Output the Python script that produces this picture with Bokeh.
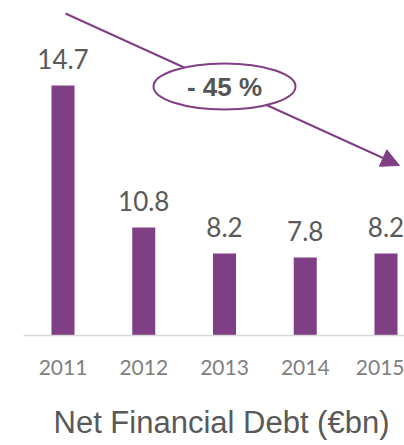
from bokeh.plotting import figure
from bokeh.models import Range1d, FixedTicker, LabelSet, ColumnDataSource, Arrow, NormalHead, Title
from bokeh.core.properties import value
from bokeh.embed import file_html
from bokeh.resources import INLINE

# ---- data ----
years = [2011, 2012, 2013, 2014, 2015]
bar_heights = [25.0, 10.8, 8.2, 7.8, 8.2]          # drawn bar heights (as pictured)
value_labels = ["14.7", "10.8", "8.2", "7.8", "8.2"]  # printed labels
tick_labels = ["2011", "2012", "2013", "2014", "2015"]
change_label = "- 45 %"
title_text = "Net Financial Debt (\u20acbn)"

PURPLE = "#7f3f84"
DARK = "#595959"
TICK = "#7f7f7f"

src = ColumnDataSource(dict(x=years, top=bar_heights, label=value_labels))

p = figure(frame_width=381, frame_height=327,
           x_range=Range1d(2010.511, 2015.229), y_range=Range1d(0, 32.7),
           output_backend="svg", toolbar_location=None,
           min_border_left=23, min_border_right=0, min_border_top=8, min_border_bottom=0)
p.outline_line_color = None
p.background_fill_color = "white"
p.border_fill_color = "white"
p.grid.visible = False
p.yaxis.visible = False

ax = p.xaxis[0]
ax.ticker = FixedTicker(ticks=years)
ax.major_label_overrides = {y: t for y, t in zip(years, tick_labels)}
ax.major_tick_line_color = None
ax.minor_tick_line_color = None
ax.axis_line_color = "#d9d9d9"
ax.axis_line_width = 1.5
ax.major_label_standoff = 18
ax.major_label_text_font = "Lato"
ax.major_label_text_font_size = "21px"
ax.major_label_text_color = TICK

p.vbar(x="x", top="top", bottom=0, width=0.285, source=src,
       fill_color=PURPLE, line_color=None)

labels = LabelSet(x="x", y="top", text="label", source=src, y_offset=17,
                  text_align="center", text_baseline="alphabetic",
                  text_font=value("Lato"), text_font_size="26px", text_color=DARK)
p.add_layout(labels)

# trend arrow
arrow = Arrow(x_start=2011.031, y_start=32.2, x_end=2015.167, y_end=17.0,
              line_color=PURPLE, line_width=2,
              end=NormalHead(size=18, fill_color=PURPLE, line_color=PURPLE, line_width=1))
p.add_layout(arrow)

ell = p.ellipse(x=[2013.0], y=[24.9], width=142, height=46,
                width_units="screen", height_units="screen",
                fill_color="white", line_color=PURPLE, line_width=2)
ell.level = "overlay"
txt = p.text(x=[2013.0], y=[24.9], text=[change_label],
             text_font=value("Liberation Sans"), text_font_style="bold",
             text_font_size="26px", text_color="#555555",
             text_align="center", text_baseline="middle")
txt.level = "overlay"

t = Title(text=title_text, text_font="Liberation Sans", text_font_size="31px",
          text_font_style="normal", text_color=DARK, align="left", offset=30,
          standoff=50)
p.add_layout(t, "below")

open("out.html", "w").write(file_html(p, INLINE))
